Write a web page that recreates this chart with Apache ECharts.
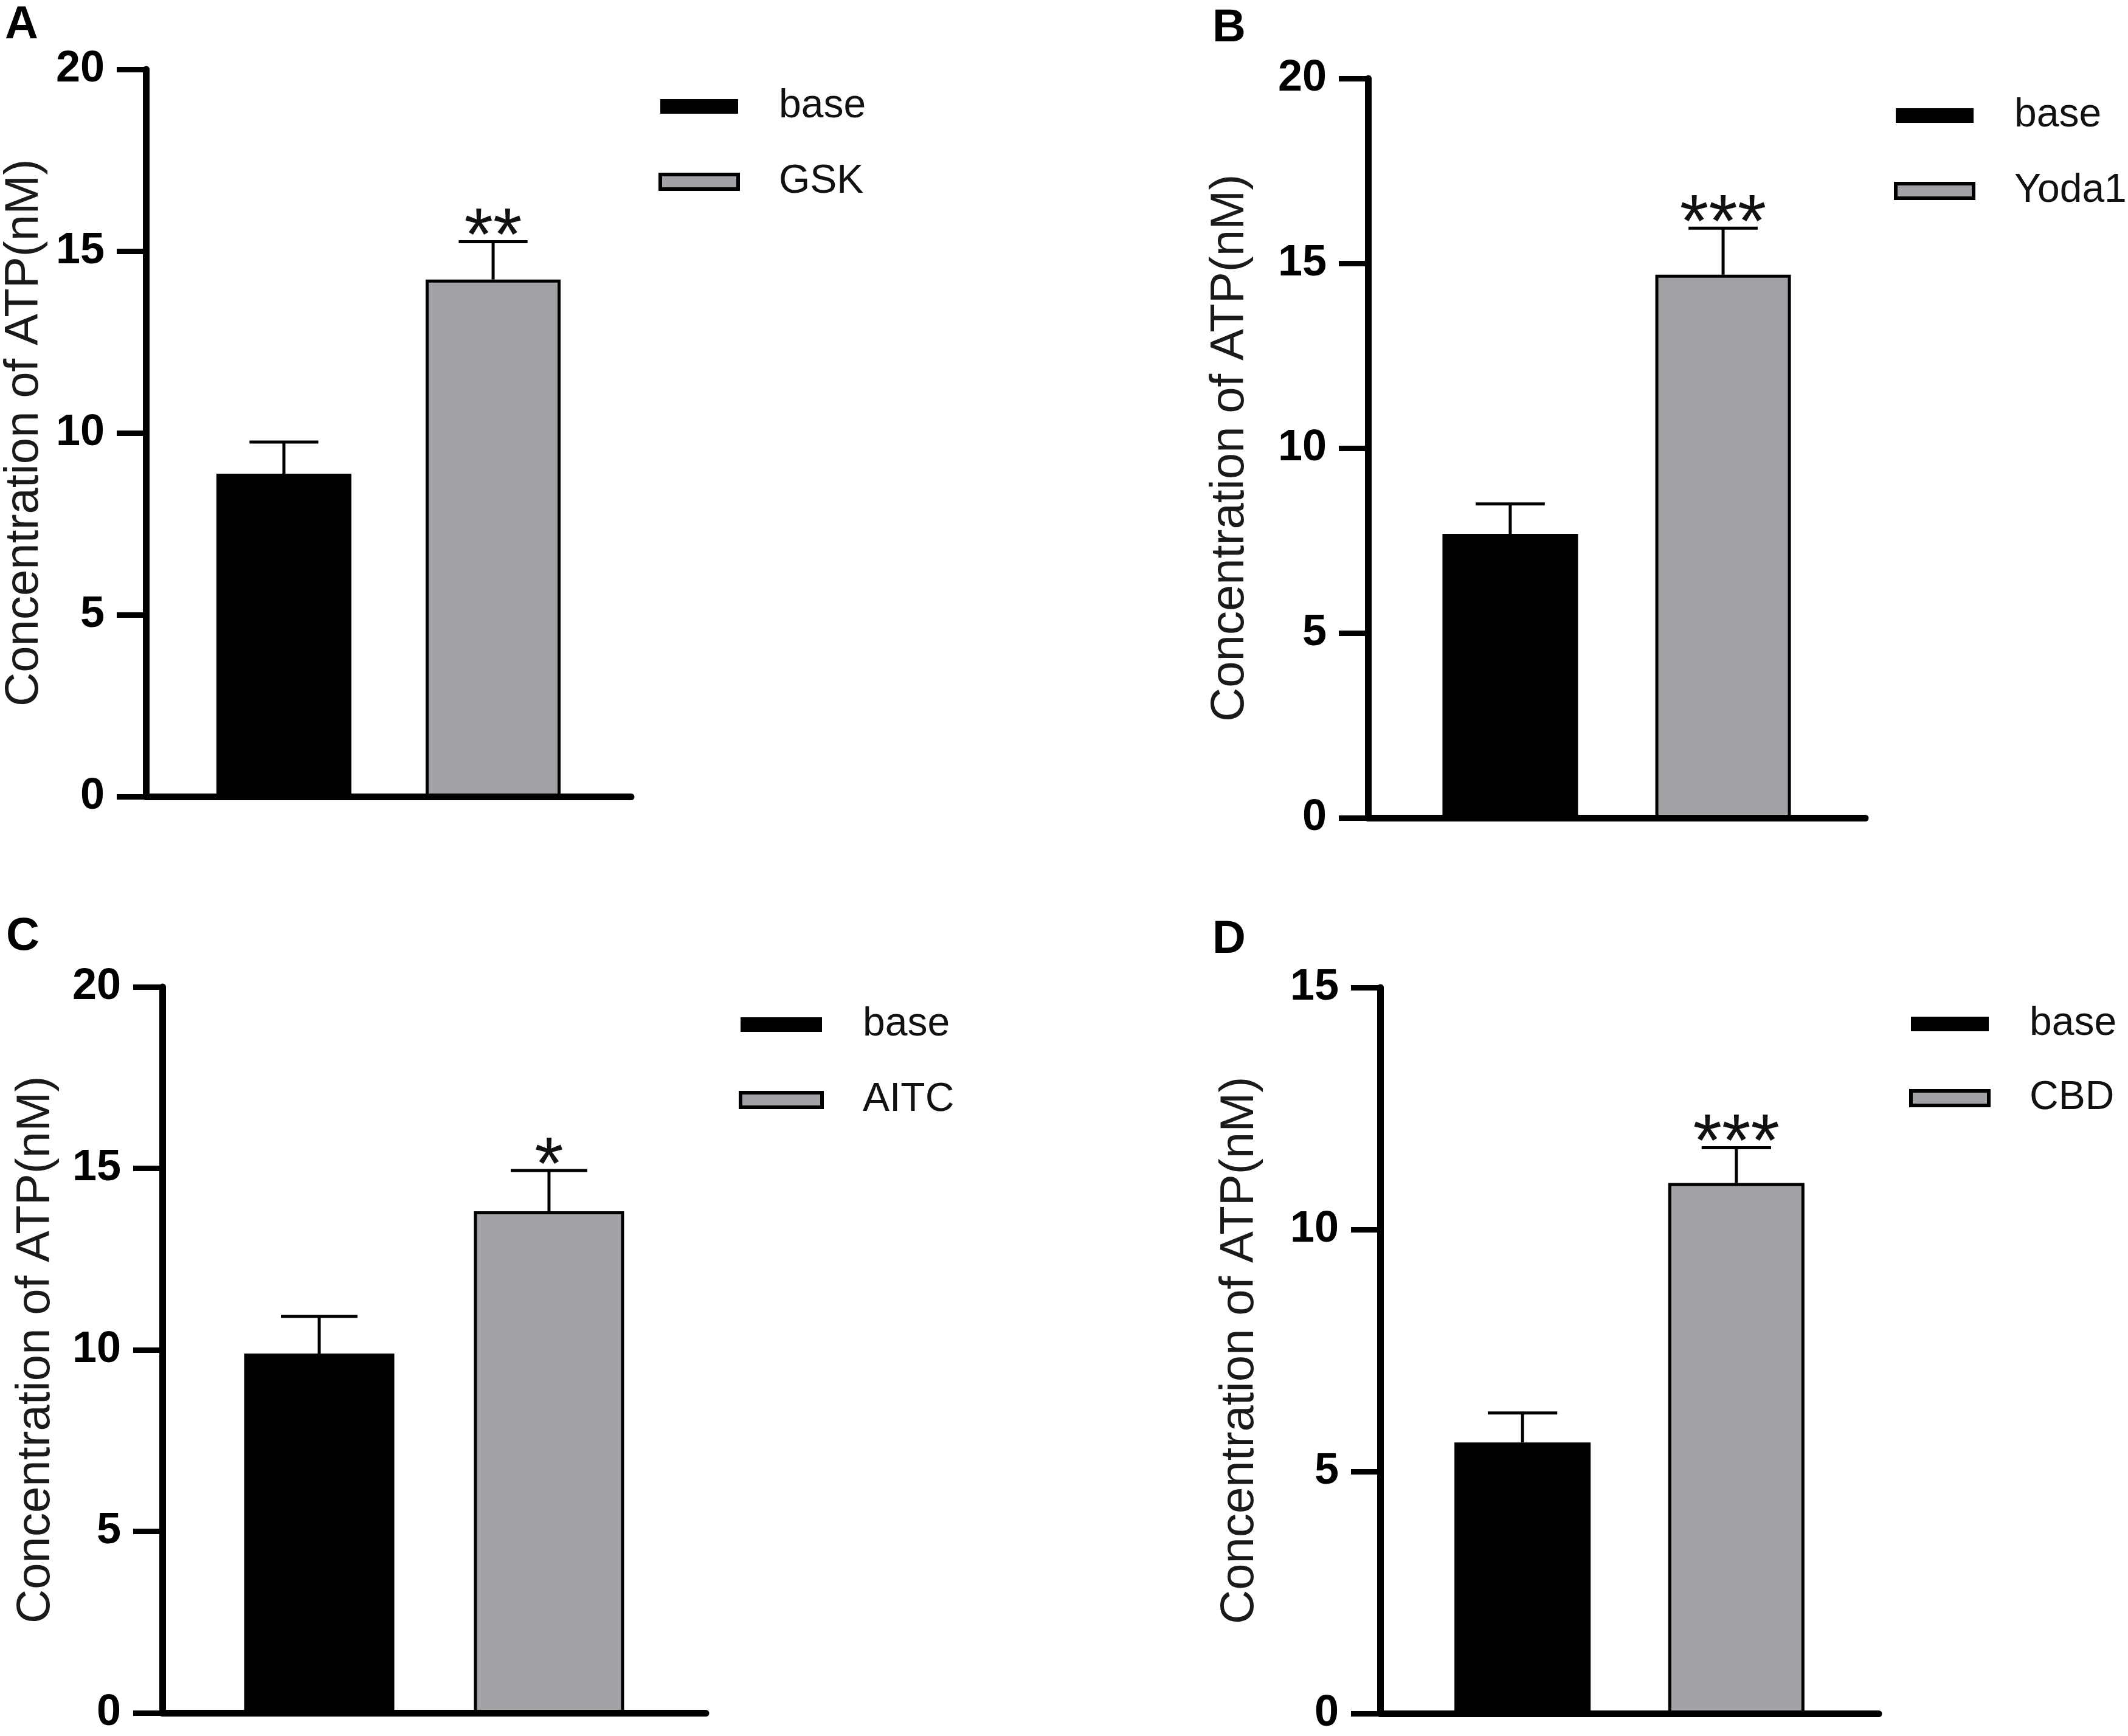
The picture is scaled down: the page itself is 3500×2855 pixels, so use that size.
<!DOCTYPE html>
<html>
<head>
<meta charset="utf-8">
<script src="https://cdn.jsdelivr.net/npm/echarts@6/dist/echarts.min.js"></script>
<style>
  html, body { margin: 0; padding: 0; background: #fff; }
  #main { width: 3500px; height: 2855px; }
</style>
</head>
<body>
<div id="main"></div>
<script>
// panel data
var panelLetters = ['A', 'B', 'C', 'D'];
var treatNames   = ['GSK', 'Yoda1', 'AITC', 'CBD'];
var baseMean  = [8.88, 7.68, 9.90, 5.60];
var baseErr   = [0.87, 0.81, 1.02, 0.61];
var treatMean = [14.22, 14.69, 13.82, 10.96];
var treatErr  = [1.04, 1.26, 1.12, 0.73];
var starText  = ['**', '***', '*', '***'];
var yMaxes    = [20, 20, 20, 15];

// layout of each panel (pixels)
var grids = [
  { left: 238,  top: 114,  width: 800, height: 1196 },
  { left: 2250, top: 129,  width: 818, height: 1216 },
  { left: 267,  top: 1623, width: 894, height: 1194 },
  { left: 2270, top: 1624, width: 820, height: 1194 }
];
var barW    = [222, 223, 247, 224];
var barGapP = [0.55, 0.57, 0.53, 0.57];
var nameGaps = [161, 188, 169, 192];
var legendPos = [
  { left: 1083, top: 142,  gap: 58, w: 128 },
  { left: 3115, top: 157,  gap: 58, w: 128 },
  { left: 1215, top: 1652, gap: 58, w: 134 },
  { left: 3140, top: 1651, gap: 56, w: 128 }
];
var letterPos = [
  { left: 8,    top: 4 },
  { left: 1994, top: 9 },
  { left: 10,   top: 1503 },
  { left: 1994, top: 1508 }
];

var FONT = "'Liberation Sans', Arial, sans-serif";
var BASE_COLOR = '#000000';
var TREAT_COLOR = '#a3a2a7';

function errRenderer(i) {
  return function (params, api) {
    var k = api.value(3);
    var mean = api.value(1), err = api.value(2);
    var p0 = api.coord([api.value(0), mean]);
    var p1 = api.coord([api.value(0), mean + err]);
    var x = p0[0] + (k - 0.5) * barW[i] * (1 + barGapP[i]);
    var cw = barW[i] * 0.51;
    var line = { stroke: '#000', lineWidth: 5 };
    var kids = [
      { type: 'line', shape: { x1: x, y1: p0[1], x2: x, y2: p1[1] }, style: line },
      { type: 'line', shape: { x1: x - cw / 2, y1: p1[1], x2: x + cw / 2, y2: p1[1] }, style: line }
    ];
    if (k === 1) {
      kids.push({
        type: 'text',
        style: {
          text: starText[i], x: x, y: p1[1] - 4,
          textAlign: 'center', textVerticalAlign: 'middle',
          font: '122px ' + FONT, fill: '#111'
        }
      });
    }
    return { type: 'group', children: kids };
  };
}

var option = {
  animation: false,
  backgroundColor: '#fff',
  title: [], grid: [], xAxis: [], yAxis: [], legend: [], series: []
};

for (var i = 0; i < 4; i++) {
  option.title.push({
    text: panelLetters[i], left: letterPos[i].left, top: letterPos[i].top, padding: 0,
    textStyle: { fontFamily: FONT, fontSize: 76, fontWeight: 'bold', color: '#000' }
  });
  option.grid.push(grids[i]);
  option.xAxis.push({
    type: 'category', gridIndex: i, data: [''],
    axisLine: { lineStyle: { color: '#000', width: 11 } },
    axisTick: { show: false }, axisLabel: { show: false }
  });
  option.yAxis.push({
    type: 'value', gridIndex: i, min: 0, max: yMaxes[i], interval: 5,
    name: 'Concentration of ATP(nM)', nameLocation: 'middle', nameGap: nameGaps[i],
    nameTextStyle: { fontFamily: FONT, fontSize: 78, color: '#1a1a1a' },
    axisLine: { show: true, lineStyle: { color: '#000', width: 11 } },
    axisTick: { show: true, length: 48, lineStyle: { color: '#000', width: 9 } },
    axisLabel: { margin: 68, fontFamily: FONT, fontSize: 72, fontWeight: 'bold', color: '#000' },
    splitLine: { show: false }
  });
  option.legend.push({
    orient: 'vertical', left: legendPos[i].left, top: legendPos[i].top,
    itemGap: legendPos[i].gap, itemWidth: legendPos[i].w, itemHeight: 24, icon: 'rect',
    padding: 0, selectedMode: false,
    textStyle: { fontFamily: FONT, fontSize: 66, color: '#111', lineHeight: 66, padding: [0, 0, 0, 62] },
    data: [
      { name: 'base', itemStyle: { color: BASE_COLOR, borderWidth: 0 } },
      { name: treatNames[i], itemStyle: { color: TREAT_COLOR, borderColor: '#000', borderWidth: 6 } }
    ]
  });
  option.series.push({
    type: 'bar', name: 'base', xAxisIndex: i, yAxisIndex: i,
    barWidth: barW[i], barGap: Math.round(barGapP[i] * 100) + '%',
    itemStyle: { color: BASE_COLOR, borderColor: '#000', borderWidth: 5 },
    data: [baseMean[i]]
  });
  option.series.push({
    type: 'bar', name: treatNames[i], xAxisIndex: i, yAxisIndex: i,
    barWidth: barW[i], barGap: Math.round(barGapP[i] * 100) + '%',
    itemStyle: { color: TREAT_COLOR, borderColor: '#000', borderWidth: 5 },
    data: [treatMean[i]]
  });
  option.series.push({
    type: 'custom', name: 'err' + i, xAxisIndex: i, yAxisIndex: i, z: 5,
    renderItem: errRenderer(i),
    encode: { x: 0, y: 1 },
    data: [[0, baseMean[i], baseErr[i], 0], [0, treatMean[i], treatErr[i], 1]]
  });
}

var chart = echarts.init(document.getElementById('main'));
chart.setOption(option);
</script>
</body>
</html>
